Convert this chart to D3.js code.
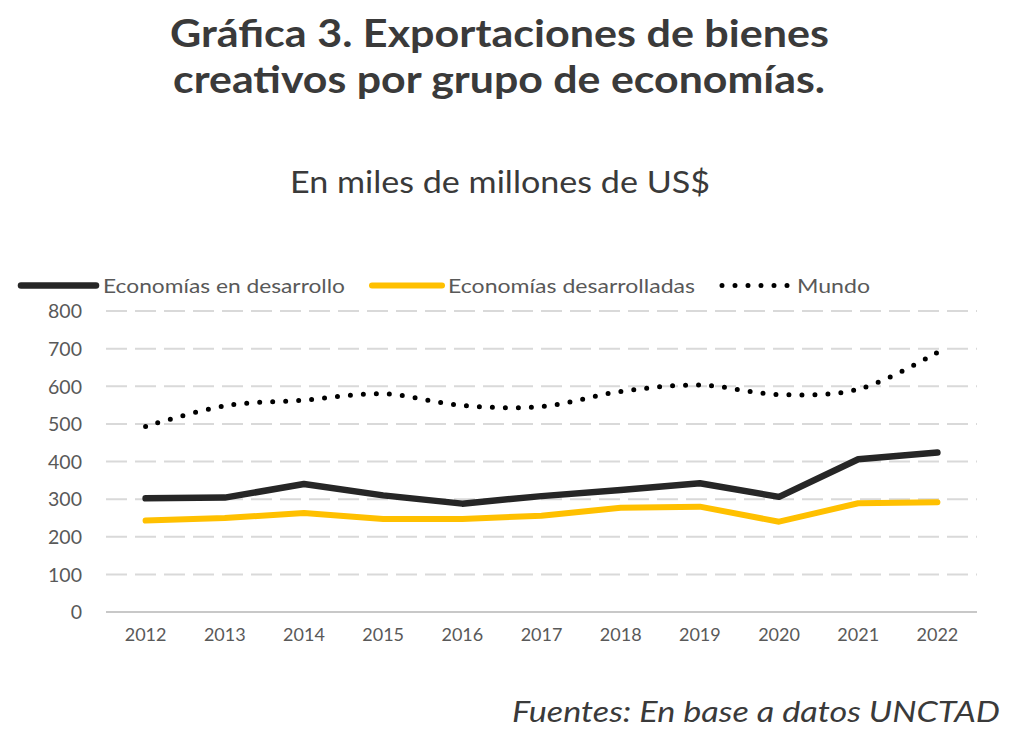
<!DOCTYPE html>
<html><head><meta charset="utf-8">
<script src="https://cdn.jsdelivr.net/npm/d3@7"></script>
<style>
body{margin:0;background:#fff;}
svg{display:block;}
</style></head>
<body>
<svg id="chart" width="1024" height="746"></svg>
<script>
const years = ["2012","2013","2014","2015","2016","2017","2018","2019","2020","2021","2022"];
const developing = [302, 304, 340, 310, 288, 308, 324, 342, 306, 406, 424];
const developed = [243, 250, 263, 247, 247, 256, 277, 280, 240, 289, 292];
const world = [493, 548, 563, 580, 549, 546, 586, 603, 578, 592, 690];
const yTicks = [0,100,200,300,400,500,600,700,800];
const seriesNames = ["Economías en desarrollo","Economías desarrolladas","Mundo"];

const svg = d3.select("#chart");
svg.append("rect").attr("width",1024).attr("height",746).attr("fill","#fff");

const x = d3.scaleBand().domain(years).range([106, 977]);
const y = d3.scaleLinear().domain([0, 800]).range([612, 311]);
const cx = d => x(d) + x.bandwidth()/2;

function stretched(g, txt, x0, x1, yb, size, opts={}) {
  const t = g.append("text").attr("x", x0).attr("y", yb)
    .attr("font-family","Lato").attr("font-size", size)
    .attr("fill", opts.fill || "#3a3a3a")
    .attr("textLength", x1 - x0).attr("lengthAdjust","spacingAndGlyphs")
    .text(txt);
  if (opts.bold) t.attr("font-weight","bold");
  if (opts.italic) t.attr("font-style","italic");
  if (opts.dy) t.attr("dy", opts.dy);
  return t;
}

// Title, subtitle, source
stretched(svg, "Gráfica 3. Exportaciones de bienes", 170, 829, 47, 38, {bold:true});
stretched(svg, "creativos por grupo de economías.", 173, 825, 93, 38, {bold:true});
stretched(svg, "En miles de millones de US$", 290, 710, 193, 30);
stretched(svg, "Fuentes: En base a datos UNCTAD", 512, 1000, 722, 28, {italic:true});

// Grid
const grid = svg.append("g");
grid.selectAll("line").data(yTicks).join("line")
  .attr("x1",106).attr("x2",977)
  .attr("y1",d=>y(d)).attr("y2",d=>y(d))
  .attr("stroke", d=> d===0 ? "#c8c8c8" : "#d9d9d9")
  .attr("stroke-width", 2)
  .attr("stroke-dasharray", d=> d===0 ? null : "21 8");

// Axes
const yAxis = svg.append("g").attr("transform","translate(82,0)")
  .call(d3.axisLeft(y).tickValues(yTicks).tickSize(0).tickPadding(0));
yAxis.select(".domain").remove();
yAxis.selectAll("text").attr("font-family","Lato").attr("font-size",19.5).attr("fill","#595959").attr("dy","0.35em");

const xAxis = svg.append("g").attr("transform","translate(0,628)")
  .call(d3.axisBottom(x).tickSize(0).tickPadding(0));
xAxis.select(".domain").remove();
xAxis.selectAll("text").attr("font-family","Lato").attr("font-size",18).attr("fill","#595959").attr("dy","0.71em");

// Lines
const straight = d3.line().x((d,i)=>cx(years[i])).y(d=>y(d));
const smooth = d3.line().x((d,i)=>cx(years[i])).y(d=>y(d)).curve(d3.curveCatmullRom.alpha(0.5));

svg.append("path").datum(developed).attr("d",straight).attr("fill","none")
  .attr("stroke","#FFC000").attr("stroke-width",6).attr("stroke-linecap","round").attr("stroke-linejoin","round");
svg.append("path").datum(developing).attr("d",straight).attr("fill","none")
  .attr("stroke","#262626").attr("stroke-width",6.5).attr("stroke-linecap","round").attr("stroke-linejoin","round");
svg.append("path").datum(world).attr("d",smooth).attr("fill","none")
  .attr("stroke","#000").attr("stroke-width",5).attr("stroke-linecap","round")
  .attr("stroke-dasharray","0 13");

// Legend
const leg = svg.append("g");
const legY = 285.5;
leg.append("line").attr("x1",21).attr("x2",96).attr("y1",legY).attr("y2",legY)
  .attr("stroke","#262626").attr("stroke-width",6.5).attr("stroke-linecap","round");
stretched(leg, seriesNames[0], 103, 345, legY, 20, {fill:"#595959", dy:"0.35em"});
leg.append("line").attr("x1",372).attr("x2",442).attr("y1",legY).attr("y2",legY)
  .attr("stroke","#FFC000").attr("stroke-width",6).attr("stroke-linecap","round");
stretched(leg, seriesNames[1], 448, 695, legY, 20, {fill:"#595959", dy:"0.35em"});
leg.append("line").attr("x1",722).attr("x2",790).attr("y1",legY).attr("y2",legY)
  .attr("stroke","#000").attr("stroke-width",5).attr("stroke-linecap","round").attr("stroke-dasharray","0 13");
stretched(leg, seriesNames[2], 797, 870, legY, 20, {fill:"#595959", dy:"0.35em"});
</script>
</body></html>
